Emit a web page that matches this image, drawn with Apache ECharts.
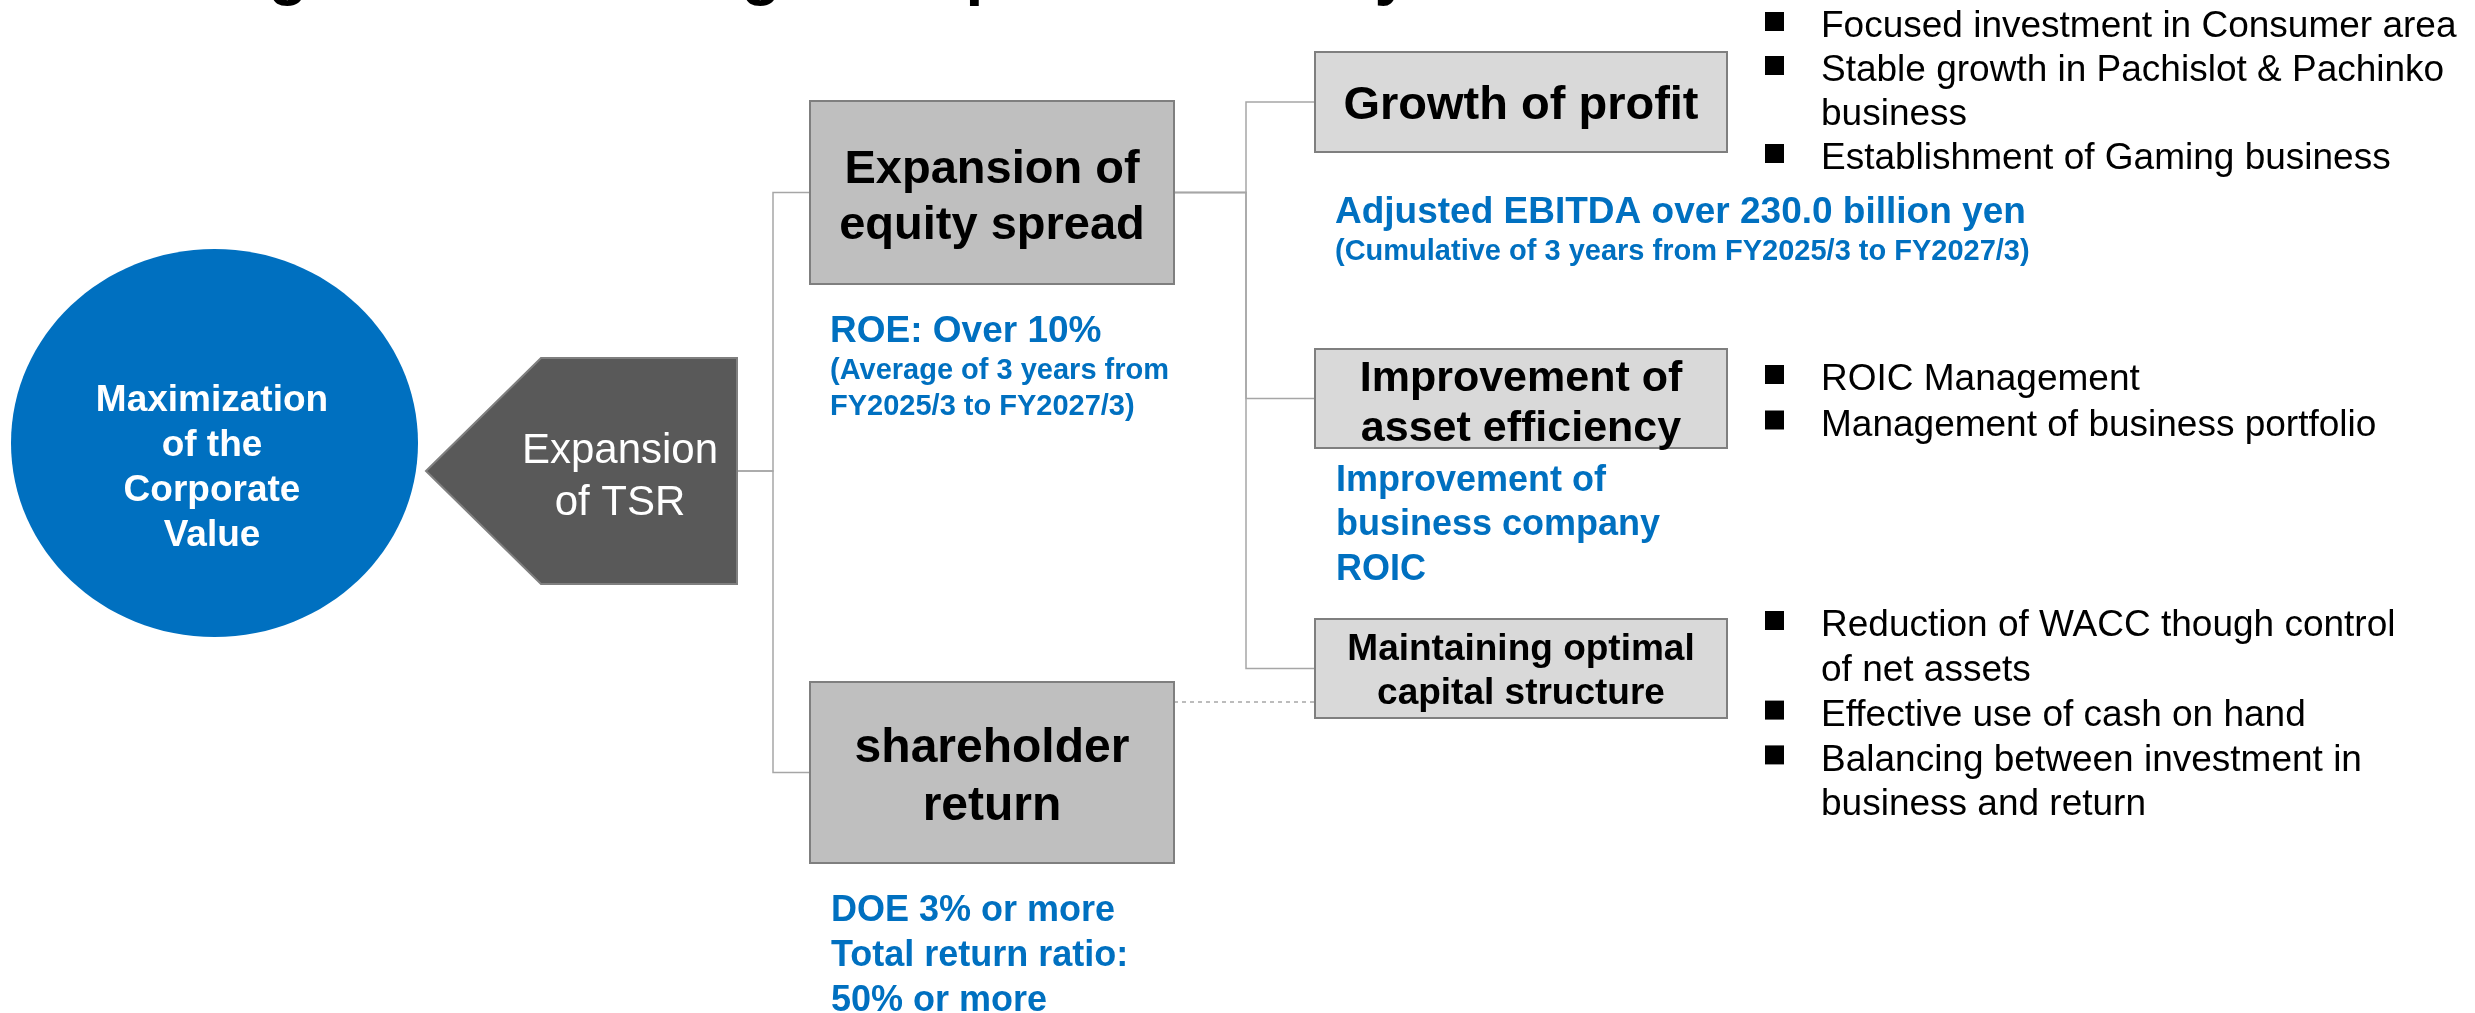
<!DOCTYPE html>
<html>
<head>
<meta charset="UTF-8">
<script src="https://cdn.jsdelivr.net/npm/echarts@6/dist/echarts.min.js"></script>
<style>
  html, body { margin: 0; padding: 0; background: #ffffff; }
  #main { width: 2475px; height: 1013px; }
</style>
</head>
<body>
<div id="main"></div>
<script>
// ---- content ----
var titleText = 'Management focusing on capital efficiency';
var nodeNames = [
  'Maximization\nof the\nCorporate\nValue',
  'Expansion\nof TSR',
  'Expansion of\nequity spread',
  'shareholder\nreturn',
  'Growth of profit',
  'Improvement of\nasset efficiency',
  'Maintaining optimal\ncapital structure'
];
var treeLinks = [[1, 2], [1, 3], [2, 4], [2, 5], [2, 6]];
var dashedLinks = [[3, 6]];
var roeTarget = ['ROE: Over 10%', '(Average of 3 years from', 'FY2025/3 to FY2027/3)'];
var ebitdaTarget = ['Adjusted EBITDA over 230.0 billion yen', '(Cumulative of 3 years from FY2025/3 to FY2027/3)'];
var roicTarget = ['Improvement of', 'business company', 'ROIC'];
var doeTarget = ['DOE 3% or more', 'Total return ratio:', '50% or more'];
var growthBullets = ['Focused investment in Consumer area', 'Stable growth in Pachislot & Pachinko\nbusiness', 'Establishment of Gaming business'];
var assetBullets = ['ROIC Management', 'Management of business portfolio'];
var capitalBullets = ['Reduction of WACC though control\nof net assets', 'Effective use of cash on hand', 'Balancing between investment in\nbusiness and return'];

// ---- layout (diagram units = px, mapped through hidden value axes) ----
var FONT = '"Liberation Sans", Arial, Helvetica, sans-serif';
var BLUE = '#0070c0';
var LINE = '#a6a6a6';
var TEXT_DY = 3; // canvas 'middle' sits a bit high

var nodeLayout = [
  { shape: 'ellipse', x: 11, y: 249, w: 407, h: 388, fill: BLUE, color: '#fff', size: 37, weight: 'bold', lh: 45, tx: 212, ty: 465 },
  { shape: 'pentagon', x: 426, y: 358, w: 311, h: 226, tip: 115, fill: '#595959', color: '#fff', size: 42, weight: 'normal', lh: 52, tx: 620, ty: 474 },
  { shape: 'rect', x: 810, y: 101, w: 364, h: 183, fill: '#bfbfbf', color: '#000', size: 47, weight: 'bold', lh: 56, tx: 992, ty: 195 },
  { shape: 'rect', x: 810, y: 682, w: 364, h: 181, fill: '#bfbfbf', color: '#000', size: 48, weight: 'bold', lh: 58, tx: 992, ty: 775 },
  { shape: 'rect', x: 1315, y: 52, w: 412, h: 100, fill: '#d9d9d9', color: '#000', size: 47, weight: 'bold', lh: 52, tx: 1521, ty: 103 },
  { shape: 'rect', x: 1315, y: 349, w: 412, h: 99, fill: '#d9d9d9', color: '#000', size: 43, weight: 'bold', lh: 50, tx: 1521, ty: 401 },
  { shape: 'rect', x: 1315, y: 619, w: 412, h: 99, fill: '#d9d9d9', color: '#000', size: 37, weight: 'bold', lh: 44, tx: 1521, ty: 669 }
];
var bracketX = { 1: 773, 2: 1246 };
var dashedY = 702;

var noteLayout = [
  { lines: roeTarget, x: 830, ys: [329, 368, 404], sizes: [37, 29, 29] },
  { lines: ebitdaTarget, x: 1335, ys: [210, 249], sizes: [37, 29] },
  { lines: roicTarget, x: 1336, ys: [478, 522, 567], sizes: [36, 36, 36] },
  { lines: doeTarget, x: 831, ys: [908, 953, 998], sizes: [36, 36, 36] }
];
var bulletLayout = [
  { items: growthBullets, y: 24, step: 44 },
  { items: assetBullets, y: 377, step: 45.5 },
  { items: capitalBullets, y: 623, step: 44.8 }
];
var bulletX = 1765, bulletTextX = 1821;

function txt(api, s, x, y, o) {
  var p = api.coord([x, y + TEXT_DY]);
  return {
    type: 'text',
    style: {
      text: s, x: p[0], y: p[1],
      fill: o.color, fontSize: o.size, fontWeight: o.weight || 'normal', fontFamily: FONT,
      align: o.align || 'left', verticalAlign: 'middle', lineHeight: o.lh || o.size
    }
  };
}

function anchorRight(i) {
  var L = nodeLayout[i];
  return [L.x + L.w, L.y + L.h / 2];
}
function anchorLeft(i) {
  var L = nodeLayout[i];
  return [L.x, L.y + L.h / 2];
}

function renderNode(params, api) {
  var i = params.dataIndex, L = nodeLayout[i];
  var p0 = api.coord([L.x, L.y]);
  var p1 = api.coord([L.x + L.w, L.y + L.h]);
  var shape;
  if (L.shape === 'ellipse') {
    shape = {
      type: 'ellipse',
      shape: { cx: (p0[0] + p1[0]) / 2, cy: (p0[1] + p1[1]) / 2, rx: (p1[0] - p0[0]) / 2, ry: (p1[1] - p0[1]) / 2 },
      style: { fill: L.fill }
    };
  } else if (L.shape === 'pentagon') {
    var pts = [
      api.coord([L.x, L.y + L.h / 2]),
      api.coord([L.x + L.tip, L.y]),
      api.coord([L.x + L.w, L.y]),
      api.coord([L.x + L.w, L.y + L.h]),
      api.coord([L.x + L.tip, L.y + L.h])
    ];
    shape = { type: 'polygon', shape: { points: pts }, style: { fill: L.fill, stroke: '#7f7f7f', lineWidth: 2 } };
  } else {
    shape = {
      type: 'rect',
      shape: { x: p0[0], y: p0[1], width: p1[0] - p0[0], height: p1[1] - p0[1] },
      style: { fill: L.fill, stroke: '#7f7f7f', lineWidth: 2 }
    };
  }
  return {
    type: 'group',
    children: [shape, txt(api, nodeNames[i], L.tx, L.ty, { color: L.color, size: L.size, weight: L.weight, lh: L.lh, align: 'center' })]
  };
}

function renderLink(params, api) {
  var link = treeLinks[params.dataIndex];
  var a = anchorRight(link[0]), b = anchorLeft(link[1]);
  var bx = bracketX[link[0]];
  var pts = [api.coord(a), api.coord([bx, a[1]]), api.coord([bx, b[1]]), api.coord(b)];
  return { type: 'polyline', shape: { points: pts }, style: { stroke: LINE, lineWidth: 1.5, fill: null } };
}

function renderDashed(params, api) {
  var link = dashedLinks[params.dataIndex];
  var a = api.coord([anchorRight(link[0])[0], dashedY]);
  var b = api.coord([anchorLeft(link[1])[0], dashedY]);
  return { type: 'line', shape: { x1: a[0], y1: a[1], x2: b[0], y2: b[1] }, style: { stroke: LINE, lineWidth: 1.5, lineDash: [4, 4] } };
}

function renderNote(params, api) {
  var N = noteLayout[params.dataIndex];
  var kids = N.lines.map(function (s, k) {
    return txt(api, s, N.x, N.ys[k], { color: BLUE, size: N.sizes[k], weight: 'bold' });
  });
  return { type: 'group', children: kids };
}

function renderBullets(params, api) {
  var B = bulletLayout[params.dataIndex];
  var kids = [];
  var row = 0;
  B.items.forEach(function (item) {
    var lines = item.split('\n');
    var yc = B.y + row * B.step;
    var s0 = api.coord([bulletX, yc - 12]);
    var sz = api.size([19, 19]);
    kids.push({ type: 'rect', shape: { x: s0[0], y: s0[1], width: sz[0], height: sz[1] }, style: { fill: '#000' } });
    lines.forEach(function (ln) {
      kids.push(txt(api, ln, bulletTextX, B.y + row * B.step, { color: '#000', size: 37 }));
      row++;
    });
  });
  return { type: 'group', children: kids };
}

function renderTitle(params, api) {
  return txt(api, titleText, 105, -28, { color: '#000', size: 64, weight: 'bold' });
}

function idx(arr) {
  return arr.map(function (d, i) { return [i, 0]; });
}

var chart = echarts.init(document.getElementById('main'), null, { renderer: 'canvas' });
var option = {
  animation: false,
  backgroundColor: '#ffffff',
  grid: { left: 0, right: 0, top: 0, bottom: 0, containLabel: false },
  xAxis: { type: 'value', min: 0, max: 2475, show: false },
  yAxis: { type: 'value', min: 0, max: 1013, inverse: true, show: false },
  series: [
    { type: 'custom', name: 'links', renderItem: renderLink, data: idx(treeLinks), z: 1 },
    { type: 'custom', name: 'dashed', renderItem: renderDashed, data: idx(dashedLinks), z: 1 },
    { type: 'custom', name: 'nodes', renderItem: renderNode, data: idx(nodeNames), z: 2 },
    { type: 'custom', name: 'notes', renderItem: renderNote, data: idx(noteLayout), z: 3 },
    { type: 'custom', name: 'bullets', renderItem: renderBullets, data: idx(bulletLayout), z: 3 },
    { type: 'custom', name: 'title', renderItem: renderTitle, data: [[0, 0]], z: 3 }
  ]
};
chart.setOption(option);
</script>
</body>
</html>
